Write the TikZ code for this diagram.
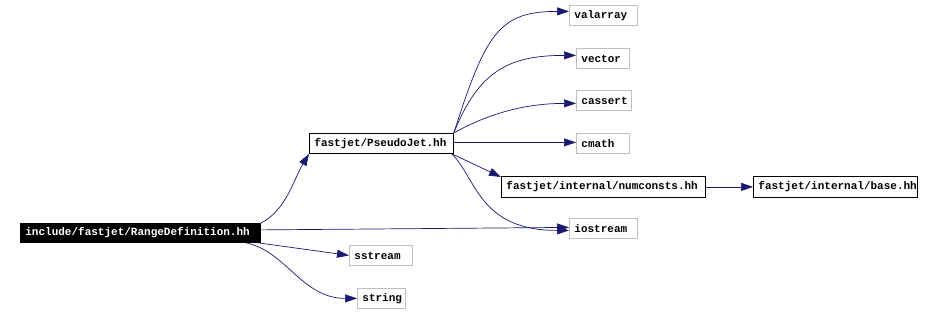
\documentclass[tikz,border=0pt]{standalone}
\usepackage{fontspec}
\newfontfamily\dxmono{Liberation Mono}
\usetikzlibrary{arrows.meta,calc}
\definecolor{edgeblue}{RGB}{25,25,112}
\definecolor{boxgray}{RGB}{191,191,191}
\tikzset{
  hdr/.style={draw=black, line width=0.8pt, fill=white, inner ysep=0pt, inner xsep=5pt,
    anchor=north west, align=left,
    font=\dxmono\bfseries\fontsize{11}{12}\selectfont, text=black},
  sysbox/.style={hdr, draw=boxgray},
  rootbox/.style={hdr, fill=black, text=white},
  dep/.style={draw=edgeblue, line width=0.7pt, -{Triangle[length=12pt,width=8pt]}, color=edgeblue},
}
\begin{document}
\begin{tikzpicture}[x=1pt,y=-1pt]
\useasboundingbox (0,0) rectangle (932,313);
% nodes (text width = box width - 10)
\node[rootbox, text width=230pt, minimum height=19] (rd) at (20,223) {include/fastjet/RangeDefinition.hh};
\node[hdr, text width=134pt, minimum height=20] (pj) at (309,133) {fastjet/PseudoJet.hh};
\node[sysbox, text width=53pt, minimum height=20] (ss) at (349,245) {sstream};
\node[sysbox, text width=38pt, minimum height=20] (str) at (357,288) {string};
\node[sysbox, text width=58pt, minimum height=20] (val) at (569,5) {valarray};
\node[sysbox, text width=43pt, minimum height=20] (vec) at (576,48) {vector};
\node[sysbox, text width=45pt, minimum height=20] (cas) at (576,90) {cassert};
\node[sysbox, text width=43pt, minimum height=20] (cm) at (576,133) {cmath};
\node[hdr, text width=194pt, minimum height=21] (num) at (501,176) {fastjet/internal/numconsts.hh};
\node[hdr, text width=154pt, minimum height=21] (base) at (753,176) {fastjet/internal/base.hh};
\node[sysbox, text width=58pt, minimum height=20] (ios) at (569,218) {iostream};
% edges from RangeDefinition
\draw[dep] (rd.north east) .. controls +(25,-12) and +(-15,25) .. (pj.south west);
\draw[dep] ($(rd.east)+(0,-3)$) -- ($(ios.west)+(0,-1)$);
\draw[dep] ($(rd.south east)+(-3,0)$) -- (ss.west);
\draw[dep] ($(rd.south east)+(-15,0)$) .. controls +(40,8) and +(-55,0) .. (str.west);
% edges from PseudoJet
\draw[dep] (pj.north east) .. controls +(32,-100) and +(-70,0) .. ($(val.west)+(0,-4)$);
\draw[dep] (pj.north east) .. controls +(25,-63) and +(-66,0) .. ($(vec.west)+(0,-3)$);
\draw[dep] (pj.north east) .. controls +(25,-14) and +(-60,0) .. ($(cas.west)+(0,3)$);
\draw[dep] ($(pj.east)+(0,-1)$) -- ($(cm.west)+(0,-1)$);
\draw[dep] ($(pj.south east)+(-2,0)$) -- ($(num.north west)+(0,1)$);
\draw[dep] ($(pj.south east)+(-2,0)$) .. controls +(25,25) and +(-90,0) .. ($(ios.west)+(0,2)$);
% numconsts -> base
\draw[dep] (num.east) -- (base.west);
\end{tikzpicture}
\end{document}
